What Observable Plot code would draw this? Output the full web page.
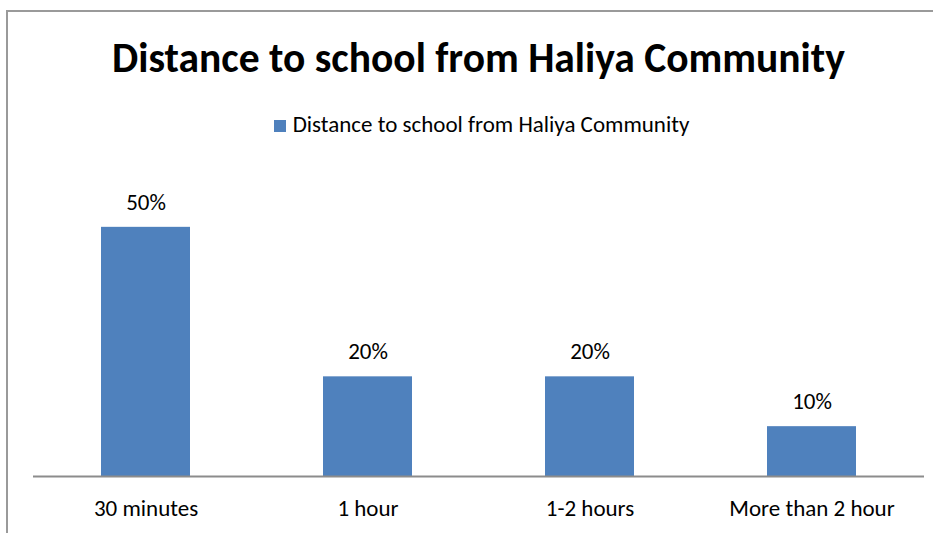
<!DOCTYPE html>
<html>
<head>
<meta charset="utf-8">
<script src="https://cdn.jsdelivr.net/npm/d3@7"></script>
<script src="https://cdn.jsdelivr.net/npm/@observablehq/plot@0.6"></script>
<style>
  html, body { margin: 0; padding: 0; background: #fff; }
  #wrap { position: relative; width: 933px; height: 533px; overflow: hidden; background: #fff; font-family: Calibri, Carlito, Lato, sans-serif; }
  #frame { position: absolute; left: 6px; top: 10px; width: 2000px; height: 2000px; border-top: 2px solid #9a9a9a; border-left: 2px solid #9a9a9a; box-sizing: border-box; }
  #title { position: absolute; left: 0; width: 957px; top: 0; text-align: center; font-weight: bold; color: #000; white-space: nowrap; line-height: 1; }
  #legend { position: absolute; left: 0; width: 963px; top: 0; text-align: center; color: #000; white-space: nowrap; line-height: 1; }
  #legend .sw { display: inline-block; width: 12px; height: 12px; background: #4F81BD; margin-right: 7px; vertical-align: baseline; }
  #chart { position: absolute; left: 0; top: 0; }
</style>
</head>
<body>
<div id="wrap">
  <div id="frame"></div>
  <div id="chart"></div>
  <div id="title"></div>
  <div id="legend"></div>
</div>
<script>
const titleText = "Distance to school from Haliya Community";
const seriesName = "Distance to school from Haliya Community";
const categories = ["30 minutes", "1 hour", "1-2 hours", "More than 2 hour"];
const values = [0.5, 0.2, 0.2, 0.1];
const valueLabels = ["50%", "20%", "20%", "10%"];
const barColor = "#4F81BD";
const FONT = "Calibri, Carlito, Lato, sans-serif";

const data = categories.map((c, i) => ({category: c, value: values[i], label: valueLabels[i]}));

function fitSize(text, weight, targetWidth) {
  const ctx = document.createElement("canvas").getContext("2d");
  ctx.font = `${weight} 100px ${FONT}`;
  const w = ctx.measureText(text).width;
  return 100 * targetWidth / w;
}

const chart = Plot.plot({
  width: 933,
  height: 533,
  marginTop: 177,
  marginBottom: 57,
  marginLeft: 33,
  marginRight: 9,
  style: {fontFamily: FONT, fontSize: "23px", color: "#000", background: "transparent", overflow: "visible"},
  x: {domain: categories, paddingInner: 0.6, paddingOuter: 0.3, label: null},
  y: {domain: [0, 0.6], axis: null},
  marks: [
    Plot.barY(data, {x: "category", y: "value", fill: barColor}),
    Plot.ruleY([0], {stroke: "#8c8c8c", strokeWidth: 2}),
    Plot.text(data, {x: "category", y: "value", text: "label", dy: -25, fill: "#000", fontSize: 23}),
    Plot.axisX({tickSize: 0, tickPadding: 23, fontSize: 23, label: null, fill: "#000"})
  ]
});
document.getElementById("chart").appendChild(chart);

const tEl = document.getElementById("title");
tEl.textContent = titleText;
const tSize = fitSize(titleText, "bold", 733);
tEl.style.fontSize = tSize + "px";
tEl.style.top = (74 - 0.887 * tSize) + "px";

const lEl = document.getElementById("legend");
const lSize = fitSize(seriesName, "normal", 397);
lEl.innerHTML = `<span class="sw"></span><span>${seriesName}</span>`;
lEl.style.fontSize = lSize + "px";
lEl.style.top = (133 - 0.887 * lSize) + "px";
</script>
</body>
</html>
